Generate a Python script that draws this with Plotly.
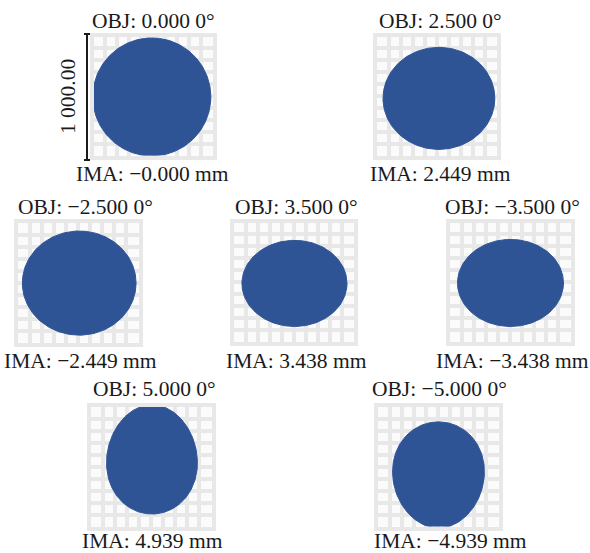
import numpy as np
import plotly.graph_objects as go

# ---- data (spot diagram, units: µm, grid box = 1000 µm) ----
obj_labels = ["OBJ: 0.000 0°", "OBJ: 2.500 0°", "OBJ: −2.500 0°", "OBJ: 3.500 0°",
              "OBJ: −3.500 0°", "OBJ: 5.000 0°", "OBJ: −5.000 0°"]
ima_labels = ["IMA: −0.000 mm", "IMA: 2.449 mm", "IMA: −2.449 mm", "IMA: 3.438 mm",
              "IMA: −3.438 mm", "IMA: 4.939 mm", "IMA: −4.939 mm"]
spot_cx = [-10, 20, 10, 8, 4, 8, 4]
spot_cy = [-8, -20, -5, -12, -8, 59, -70]
spot_rx = [496, 466, 470, 438, 438, 375, 379]
spot_ry = [496, 429, 434, 362, 366, 455, 442]
spot_taper = [0.0, 0.0, 0.0, 0.0, 0.0, -0.06, 0.06]
scale_label = "1 000.00"
box_half = 500
grid_step = 100

# ---- layout (pixel boxes, outer edge of grid border) ----
W, H = 590, 553
LW = 3.5
boxes = [(90, 33, 216, 159), (373, 33, 500, 159), (14, 219, 142, 346), (230, 219, 357, 345),
         (446, 219, 574, 345), (87, 403, 215, 530), (374, 403, 502, 530)]
obj_pos = [(153, 21), (440, 21), (85, 207), (297, 207), (512, 207), (154, 389), (439, 389)]
ima_pos = [(152, 174), (440, 174), (80, 361), (296, 361), (512, 361), (152, 541), (450, 541)]

FONT = "Liberation Serif"
BLUE = "#2f5496"
GRID = "#e8e8e8"

fig = go.Figure()
layout_upd = {}
t = np.linspace(0, 2 * np.pi, 241)
for i in range(7):
    x0, y0, x1, y1 = boxes[i]
    x0, y0, x1, y1 = x0 + LW, y0 + LW, x1 - LW, y1 - LW
    xa = "x" if i == 0 else f"x{i+1}"
    ya = "y" if i == 0 else f"y{i+1}"
    xk = "xaxis" if i == 0 else f"xaxis{i+1}"
    yk = "yaxis" if i == 0 else f"yaxis{i+1}"
    ax_common = dict(range=[-box_half, box_half], dtick=grid_step, tick0=0, showgrid=True,
                     gridcolor=GRID, gridwidth=LW, zeroline=False, showticklabels=False,
                     ticks="", showline=True, linecolor=GRID, linewidth=LW, mirror=True,
                     fixedrange=True)
    layout_upd[xk] = dict(ax_common, domain=[x0 / W, x1 / W], anchor=ya)
    layout_upd[yk] = dict(ax_common, domain=[1 - y1 / H, 1 - y0 / H], anchor=xa)
    k = spot_taper[i]
    xs = spot_cx[i] + spot_rx[i] * np.cos(t) * (1 + k * np.sin(t))
    ys = spot_cy[i] + spot_ry[i] * np.sin(t)
    fig.add_trace(go.Scatter(x=xs, y=ys, xaxis=xa, yaxis=ya, mode="lines",
                             fill="toself", fillcolor=BLUE, line=dict(color=BLUE, width=1),
                             hoverinfo="skip", showlegend=False, cliponaxis=False))

annotations = []
for i in range(7):
    for lab, (px, py) in ((obj_labels[i], obj_pos[i]), (ima_labels[i], ima_pos[i])):
        annotations.append(dict(text=lab, x=px / W, y=1 - py / H, xref="paper", yref="paper",
                                xanchor="center", yanchor="middle", showarrow=False,
                                font=dict(family=FONT, size=21.5, color="#1a1a1a")))
annotations.append(dict(text=scale_label, x=68 / W, y=1 - 97 / H, xref="paper", yref="paper",
                        xanchor="center", yanchor="middle", showarrow=False, textangle=-90,
                        font=dict(family=FONT, size=21.5, color="#1a1a1a")))

shapes = [
    dict(type="line", xref="paper", yref="paper", x0=87 / W, x1=87 / W, y0=1 - 34 / H, y1=1 - 160 / H,
         line=dict(color="#1a1a1a", width=2)),
    dict(type="line", xref="paper", yref="paper", x0=84 / W, x1=90 / W, y0=1 - 34 / H, y1=1 - 34 / H,
         line=dict(color="#1a1a1a", width=2)),
    dict(type="line", xref="paper", yref="paper", x0=84 / W, x1=90 / W, y0=1 - 160 / H, y1=1 - 160 / H,
         line=dict(color="#1a1a1a", width=2)),
]

fig.update_layout(width=W, height=H, margin=dict(l=0, r=0, t=0, b=0),
                  paper_bgcolor="white", plot_bgcolor="#fbfbfb",
                  annotations=annotations, shapes=shapes, **layout_upd)
fig.write_html("out.html", config={"displayModeBar": False},
               post_script="document.body.style.margin='0';document.body.style.overflow='hidden';")
